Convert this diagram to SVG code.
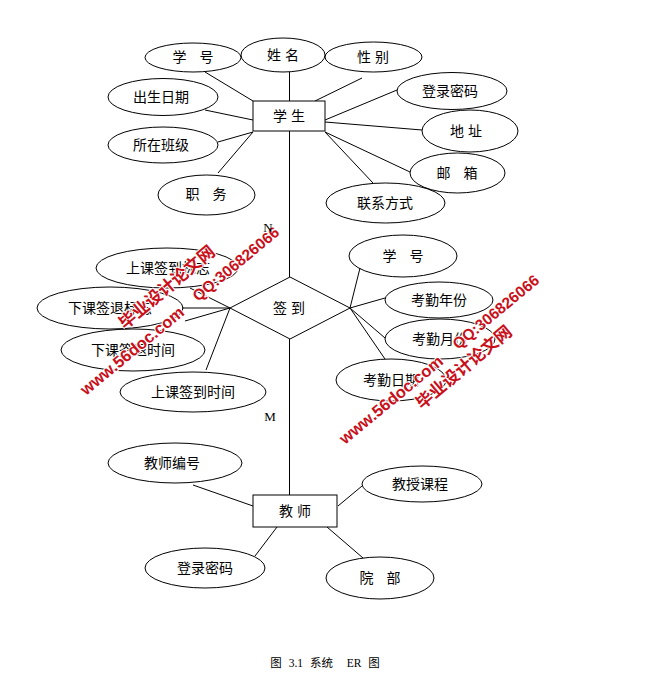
<svg xmlns="http://www.w3.org/2000/svg" width="645" height="689" viewBox="0 0 645 689">
<style>
.bg{fill:#fff}
.e{fill:none;stroke:#000;stroke-width:1}
.r{fill:#fff;stroke:#000;stroke-width:1}
.c line,.c polyline{stroke:#000;stroke-width:1;fill:none}
.t{font-family:"Liberation Sans","Noto Sans CJK SC",sans-serif;font-size:14px;fill:#000;text-anchor:middle}
.w{word-spacing:9px}
.m{font-family:"Liberation Serif","Noto Sans CJK SC",serif;font-size:13px;fill:#000;text-anchor:middle}
.cap{font-family:"Liberation Serif","Noto Sans CJK SC",serif;font-size:11.5px;fill:#000;text-anchor:middle;word-spacing:4px}
.wm{font-family:"Liberation Sans","Noto Sans CJK SC",sans-serif;font-weight:bold;fill:#c8101a;stroke:#fff;stroke-width:2;paint-order:stroke;stroke-linejoin:round}
</style>
<rect class="bg" x="0" y="0" width="645" height="689"/>
<g id="connectors" class="c">
<line x1="289.5" y1="131" x2="289.5" y2="277"/>
<line x1="289.5" y1="339" x2="289.5" y2="495"/>
<line x1="205" y1="72" x2="253" y2="101"/>
<line x1="289.5" y1="72" x2="289.5" y2="101"/>
<line x1="362" y1="78" x2="315" y2="101"/>
<line x1="397" y1="90" x2="325" y2="120"/>
<line x1="325" y1="122" x2="422" y2="130"/>
<line x1="325" y1="132" x2="410" y2="172"/>
<line x1="325" y1="132" x2="373" y2="183"/>
<line x1="205" y1="110" x2="253" y2="120"/>
<line x1="218" y1="142" x2="253" y2="132"/>
<line x1="218" y1="173" x2="253" y2="132"/>
<line x1="230" y1="308" x2="190" y2="288"/>
<line x1="230" y1="308" x2="182" y2="308"/>
<line x1="230" y1="308" x2="185" y2="321"/>
<line x1="230" y1="308" x2="206" y2="370"/>
<line x1="350" y1="308" x2="360" y2="268"/>
<line x1="350" y1="308" x2="385" y2="298"/>
<line x1="350" y1="308" x2="385" y2="338"/>
<line x1="350" y1="308" x2="385" y2="359"/>
<line x1="193" y1="485" x2="253" y2="506"/>
<line x1="338" y1="506" x2="362" y2="486"/>
<line x1="277" y1="527" x2="255" y2="556"/>
<line x1="327" y1="527" x2="363" y2="558"/>
</g>
<g id="student">
<rect class="r" x="253" y="101" width="72" height="30"/>
<text class="t" x="289" y="121">学 生</text>
</g>
<g id="s_xuehao"><ellipse class="e" cx="193" cy="57.5" rx="48" ry="14.5"/><text class="t w" x="193" y="62">学 号</text></g>
<g id="s_xingming"><ellipse class="e" cx="283" cy="55" rx="42" ry="17"/><text class="t" x="283" y="60">姓 名</text></g>
<g id="s_xingbie"><ellipse class="e" cx="373.5" cy="57" rx="48.5" ry="15"/><text class="t" x="373" y="62">性 别</text></g>
<g id="s_mima"><ellipse class="e" cx="452" cy="91" rx="55" ry="18.5"/><text class="t" x="450" y="96">登录密码</text></g>
<g id="s_dizhi"><ellipse class="e" cx="470" cy="131" rx="48" ry="21"/><text class="t" x="466" y="136">地 址</text></g>
<g id="s_youxiang"><ellipse class="e" cx="457.5" cy="173" rx="47.5" ry="20"/><text class="t w" x="457" y="178">邮 箱</text></g>
<g id="s_lianxi"><ellipse class="e" cx="385.5" cy="203" rx="59.5" ry="20"/><text class="t" x="385" y="208">联系方式</text></g>
<g id="s_chusheng"><ellipse class="e" cx="163" cy="97" rx="55" ry="18.5"/><text class="t" x="161" y="102">出生日期</text></g>
<g id="s_banji"><ellipse class="e" cx="163" cy="145" rx="55" ry="18"/><text class="t" x="161" y="150">所在班级</text></g>
<g id="s_zhiwu"><ellipse class="e" cx="206.5" cy="195" rx="48.5" ry="20"/><text class="t w" x="206" y="199">职 务</text></g>
<g id="qiandao">
<polygon class="e" points="290,277 350,308 290,339 230,308"/>
<text class="t" x="289" y="313">签 到</text>
</g>
<g id="q_sbiaozhi"><ellipse class="e" cx="167" cy="268" rx="71" ry="20"/><text class="t" x="168" y="273">上课签到标志</text></g>
<g id="q_xbiaozhi"><ellipse class="e" cx="110" cy="308" rx="73" ry="21"/><text class="t" x="110" y="313">下课签退标志</text></g>
<g id="q_xshijian"><ellipse class="e" cx="133" cy="350" rx="72" ry="21"/><text class="t" x="133" y="355">下课签退时间</text></g>
<g id="q_sshijian"><ellipse class="e" cx="193" cy="392" rx="73" ry="20"/><text class="t" x="193" y="397">上课签到时间</text></g>
<g id="q_xuehao"><ellipse class="e" cx="403" cy="256" rx="54" ry="21"/><text class="t w" x="403" y="261">学 号</text></g>
<g id="q_nianfen"><ellipse class="e" cx="439" cy="300" rx="54" ry="18"/><text class="t" x="439" y="305">考勤年份</text></g>
<g id="q_yuefen"><ellipse class="e" cx="440" cy="339" rx="55" ry="20"/><text class="t" x="440" y="344">考勤月份</text></g>
<g id="q_riqi"><ellipse class="e" cx="391" cy="380" rx="55" ry="21"/><text class="t" x="391" y="385">考勤日期</text></g>
<g id="teacher">
<rect class="r" x="253" y="495" width="84" height="32"/>
<text class="t" x="295" y="516">教 师</text>
</g>
<g id="t_bianhao"><ellipse class="e" cx="175" cy="463" rx="67" ry="20"/><text class="t" x="172" y="468">教师编号</text></g>
<g id="t_kecheng"><ellipse class="e" cx="422" cy="484" rx="60" ry="18"/><text class="t" x="420" y="489">教授课程</text></g>
<g id="t_mima"><ellipse class="e" cx="205" cy="568" rx="60" ry="20"/><text class="t" x="205" y="573">登录密码</text></g>
<g id="t_yuanbu"><ellipse class="e" cx="380" cy="578" rx="54" ry="21"/><text class="t w" x="380" y="583">院 部</text></g>
<text class="cap" x="325" y="667" xml:space="preserve">图 3.1 系统  ER 图</text>
<g id="watermarks">
<text class="wm" font-size="16.5" transform="translate(86,396) rotate(-39.5)">www.56doc.com</text>
<text class="wm" font-size="17" transform="translate(125,330) rotate(-40)">毕业设计论文网</text>
<text class="wm" font-size="15.5" transform="translate(198,302) rotate(-39.5)">QQ:306826066</text>
<text class="wm" font-size="16.5" transform="translate(345,445) rotate(-39.5)">www.56doc.com</text>
<text class="wm" font-size="17" transform="translate(422,410) rotate(-40)">毕业设计论文网</text>
<text class="wm" font-size="15.5" transform="translate(458,350) rotate(-39.5)">QQ:306826066</text>
</g>
<text class="m" x="268" y="232">N</text>
<text class="m" x="270" y="421">M</text>
</svg>
